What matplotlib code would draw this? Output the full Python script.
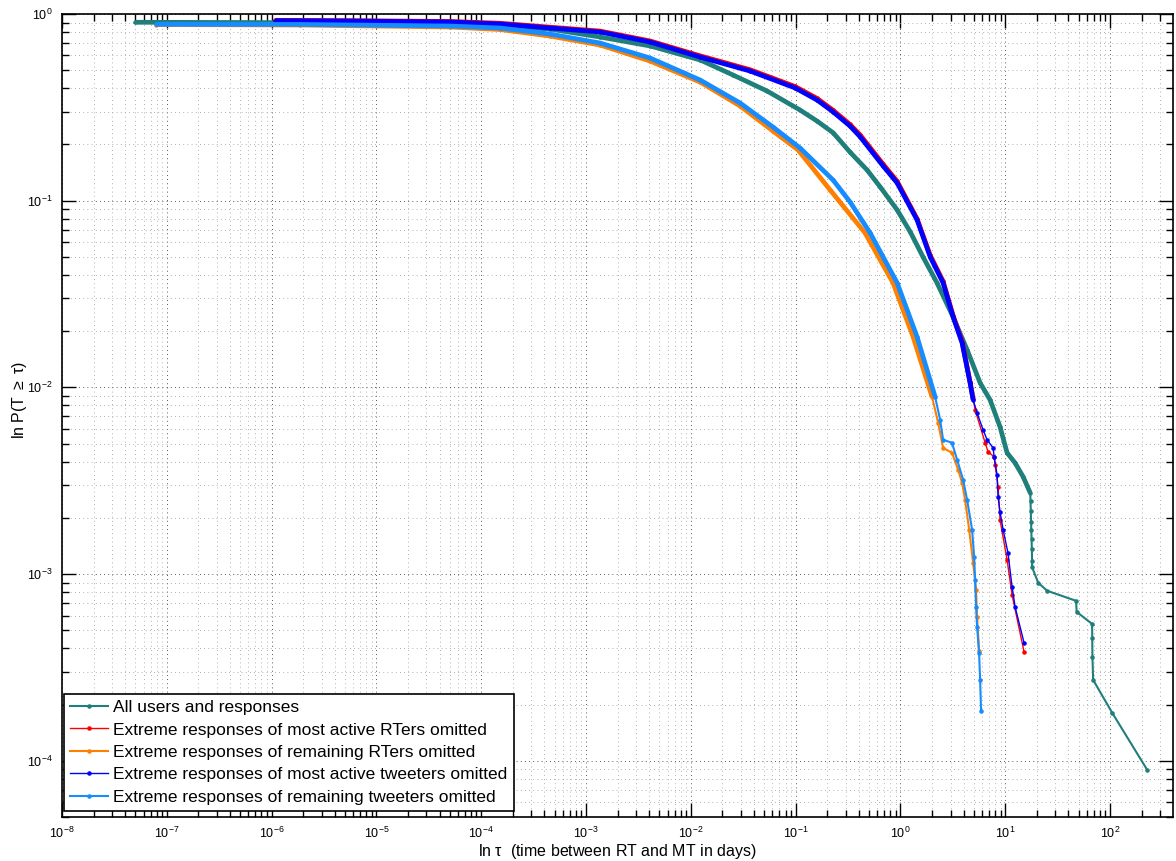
import matplotlib
matplotlib.use("Agg")
import matplotlib.pyplot as plt
from matplotlib.ticker import LogLocator, NullFormatter

plt.rcParams['font.family'] = ['Liberation Sans', 'DejaVu Sans']
plt.rcParams['mathtext.fontset'] = 'custom'
plt.rcParams['mathtext.rm'] = 'Liberation Sans'
plt.rcParams['mathtext.it'] = 'Liberation Sans:italic'
plt.rcParams['mathtext.default'] = 'regular'

# ---------------- data ----------------
labels = [
    "All users and responses",
    "Extreme responses of most active RTers omitted",
    "Extreme responses of remaining RTers omitted",
    "Extreme responses of most active tweeters omitted",
    "Extreme responses of remaining tweeters omitted",
]

all_x = [5.0e-8, 6.2e-7, 5.6e-6, 5.0e-5, 1.5e-4, 4.5e-4, 1.36e-3, 4.1e-3, 1.23e-2, 2.53e-2,
         5.33e-2, 0.110, 0.160, 0.228, 0.33, 0.48, 0.64, 0.93, 1.24, 1.64, 2.23, 3.18, 4.32, 5.75,
         7.16, 8.91, 10.4, 12.4, 14.8, 17.3, 17.4, 17.5, 17.6, 17.7, 17.8, 17.9, 18.0, 18.0,
         20.6, 25.1, 47.4, 47.9, 67.3, 67.5, 67.8, 68.9, 104.5, 225.6]
all_y = [0.903, 0.900, 0.895, 0.884, 0.862, 0.831, 0.753, 0.674, 0.567, 0.471,
         0.387, 0.306, 0.267, 0.231, 0.182, 0.146, 0.1185, 0.0892, 0.068, 0.050, 0.0363, 0.0238, 0.0159, 0.01057,
         0.00857, 0.00614, 0.00446, 0.00394, 0.00332, 0.00272, 0.00245, 0.00218, 0.00191, 0.00173, 0.00155, 0.00136, 0.00118, 0.00109,
         0.000898, 0.000814, 0.000719, 0.000628, 0.000541, 0.000456, 0.000360, 0.000271, 0.000181, 0.0000895]

rt_active_x = [1.08e-6, 5.6e-6, 5.04e-5, 1.51e-4, 4.53e-4, 1.36e-3, 4.08e-3, 1.225e-2, 3.67e-2, 0.0986,
               0.160, 0.2275, 0.330, 0.412, 0.682, 0.929, 1.44, 1.92, 2.55, 3.18, 3.87, 4.61, 4.93,
               5.15, 6.42, 6.85, 7.82, 8.0, 8.53, 8.91, 10.4, 11.6, 15.1]
rt_active_y = [0.925, 0.921, 0.912, 0.892, 0.850, 0.810, 0.717, 0.597, 0.503, 0.409,
               0.353, 0.305, 0.256, 0.225, 0.157, 0.127, 0.080, 0.051, 0.037, 0.0242, 0.0176, 0.0107, 0.0087,
               0.00758, 0.00505, 0.00452, 0.00425, 0.00385, 0.00293, 0.00195, 0.00119, 0.000774, 0.000383]

rt_rest_x = [7.9e-8, 1.87e-6, 5.04e-5, 1.51e-4, 4.53e-4, 1.36e-3, 4.08e-3, 1.225e-2, 0.0294, 0.0608,
             0.1054, 0.213, 0.459, 0.849, 1.32, 2.0, 2.29, 2.55, 3.10, 3.55, 3.87, 4.13, 4.52,
             4.93, 5.26, 5.38, 5.62]
rt_rest_y = [0.878, 0.873, 0.852, 0.826, 0.762, 0.682, 0.560, 0.432, 0.322, 0.236,
             0.187, 0.1142, 0.0672, 0.0363, 0.01864, 0.00889, 0.00645, 0.00474, 0.00446, 0.00362, 0.00308, 0.0025, 0.00173,
             0.00115, 0.000824, 0.00059, 0.000388]

tw_active_x = [1.08e-6, 5.6e-6, 5.04e-5, 1.51e-4, 4.53e-4, 1.36e-3, 4.08e-3, 1.225e-2, 3.67e-2, 0.0986,
               0.160, 0.2275, 0.330, 0.412, 0.682, 0.929, 1.44, 1.92, 2.55, 3.18, 3.87, 4.61, 4.93,
               5.38, 6.14, 6.70, 7.65, 7.82, 8.35, 8.53, 8.91, 9.53, 10.6, 11.6, 12.4, 15.1]
tw_active_y = [0.921, 0.917, 0.906, 0.884, 0.841, 0.801, 0.708, 0.588, 0.495, 0.402,
               0.346, 0.299, 0.251, 0.220, 0.1535, 0.1245, 0.0788, 0.050, 0.0363, 0.0238, 0.0173, 0.01057, 0.00857,
               0.0073, 0.00592, 0.00524, 0.00474, 0.00425, 0.0034, 0.00259, 0.00215, 0.00173, 0.0013, 0.000855, 0.000668, 0.000428]

tw_rest_x = [7.9e-8, 1.87e-6, 5.04e-5, 1.51e-4, 4.53e-4, 1.36e-3, 4.08e-3, 1.225e-2, 0.0294, 0.0608,
             0.110, 0.2275, 0.330, 0.513, 0.929, 1.44, 2.14, 2.39, 2.55, 3.10, 3.47, 3.96, 4.32, 4.82,
             5.04, 5.15, 5.26, 5.38, 5.62, 5.75, 5.87]
tw_rest_y = [0.881, 0.879, 0.862, 0.841, 0.781, 0.699, 0.581, 0.443, 0.334, 0.248,
             0.1916, 0.129, 0.0985, 0.0672, 0.0363, 0.01864, 0.00889, 0.0067, 0.00524, 0.00505, 0.00409, 0.0032, 0.0025, 0.00173,
             0.00124, 0.000932, 0.000668, 0.000522, 0.000379, 0.000271, 0.000185]

x_ticks = [1e-8, 1e-7, 1e-6, 1e-5, 1e-4, 1e-3, 1e-2, 1e-1, 1e0, 1e1, 1e2]
y_ticks = [1e-4, 1e-3, 1e-2, 1e-1, 1e0]

xlabel = r"ln $\tau$  (time between RT and MT in days)"
ylabel = r"ln P(T $\geq$ $\tau$)"

# ---------------- styling ----------------
series = [
    (all_x, all_y, '#1f7f7a', 1.5, 17.3),
    (rt_active_x, rt_active_y, '#ff0000', 1.0, 5.0),
    (rt_rest_x, rt_rest_y, '#ff8000', 1.5, 2.2),
    (tw_active_x, tw_active_y, '#0000ff', 1.0, 5.0),
    (tw_rest_x, tw_rest_y, '#168cff', 1.5, 2.2),
]

fig = plt.figure(figsize=(11.76, 8.61), dpi=100)
ax = fig.add_axes([62/1176, 44/861, 1111/1176, 803/861])
ax.set_xscale('log')
ax.set_yscale('log')

handles = []
for (xs, ys, col, lw, thick_until), lab in zip(series, labels):
    h, = ax.plot(xs, ys, color=col, lw=lw, marker='.', markersize=4.5, label=lab, zorder=3)
    handles.append(h)
    xd = [x for x in xs if x <= thick_until]
    yd = [y for x, y in zip(xs, ys) if x <= thick_until]
    ax.plot(xd, yd, color=col, lw=3.4, solid_capstyle='butt', solid_joinstyle='round', zorder=3)

ax.set_xlim(1e-8, 398)
ax.set_ylim(5e-5, 1)

ax.set_xticks(x_ticks)
ax.set_yticks(y_ticks)
ax.xaxis.set_minor_locator(LogLocator(base=10, subs=range(2, 10), numticks=20))
ax.yaxis.set_minor_locator(LogLocator(base=10, subs=range(2, 10), numticks=20))
ax.xaxis.set_minor_formatter(NullFormatter())
ax.yaxis.set_minor_formatter(NullFormatter())

ax.tick_params(which='both', direction='in', top=True, right=True, labelsize=9, width=1)
ax.tick_params(axis='x', which='both', pad=6)
ax.tick_params(axis='y', which='both', pad=7)
ax.tick_params(which='major', length=10)
ax.tick_params(which='minor', length=5)
for s in ax.spines.values():
    s.set_linewidth(1.2)

ax.grid(True, which='major', color='#222222', linestyle=(0, (1, 4)), linewidth=0.6, zorder=0)
ax.grid(True, which='minor', color='#999999', linestyle=(0, (1, 4)), linewidth=0.6, zorder=0)
ax.set_axisbelow(True)

ax.set_xlabel(xlabel, fontsize=11.5)
ax.set_ylabel(ylabel, fontsize=11.5)
ax.xaxis.set_label_coords(0.5, -0.031)
ax.yaxis.set_label_coords(-0.030, 0.52)

leg = ax.legend(handles=handles, loc='lower left', bbox_to_anchor=(0.0018, 0.0075),
                borderaxespad=0, fancybox=False, framealpha=1, edgecolor='black',
                fontsize=12.5, handlelength=2.2, handletextpad=0.3, labelspacing=0.42,
                borderpad=0.35)
leg.get_frame().set_linewidth(1.2)

fig.savefig('out.png', dpi=100)
